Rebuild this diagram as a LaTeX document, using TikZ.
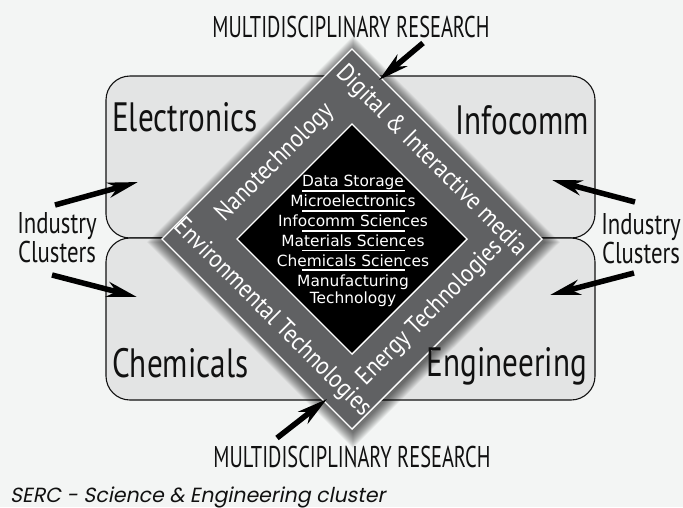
\documentclass[tikz,border=0pt]{standalone}
\usepackage{fontspec}
\setmainfont{PT Sans}
\newfontfamily\labfont[FakeStretch=0.76]{PT Sans}
\newfontfamily\capsfont[FakeStretch=0.68]{PT Sans}
\newfontfamily\bandfont[FakeStretch=0.87]{PT Sans}
\newfontfamily\sidefont[FakeStretch=0.76]{PT Sans}
\newfontfamily\notefont[FakeStretch=1.0, FakeSlant=0.2]{Poppins}
\newfontfamily\corefont{DejaVu Sans}
\usetikzlibrary{arrows.meta}

\definecolor{pagebg}{RGB}{243,245,244}
\definecolor{clusterfill}{RGB}{227,228,228}
\definecolor{bandgray}{RGB}{96,97,99}
\definecolor{inkblack}{RGB}{17,17,17}

\tikzset{
  clusterbox/.style={draw=inkblack, line width=1.1pt, fill=clusterfill, rounded corners=24pt},
  bandshape/.style={fill=bandgray, draw=white, line width=1.4pt},
  coreshape/.style={fill=black, draw=white, line width=1.4pt},
  shadowlayer/.style={fill=black, fill opacity=0.045},
  bandtext/.style={text=white, font=\bandfont\fontsize{25.5}{28}\selectfont, inner sep=0pt},
  bigtext/.style={text=inkblack, font=\labfont\fontsize{41}{44}\selectfont, inner sep=0pt},
  capstext/.style={text=inkblack, font=\capsfont\fontsize{30}{34}\selectfont, inner sep=0pt},
  sidetext/.style={text=inkblack, font=\sidefont\fontsize{30}{29}\selectfont, align=center, inner sep=0pt},
  coretext/.style={text=white, font=\corefont\fontsize{15.4}{18}\selectfont, inner sep=0pt, anchor=base},
  corerule/.style={draw=white, line width=1.3pt},
  bigarrow/.style={draw=black, line width=5.5pt, -{Stealth[length=30pt,width=15pt,inset=9pt]}},
}

\begin{document}
\begin{tikzpicture}[x=1pt,y=-1pt]
  % page
  \fill[pagebg] (0,0) rectangle (683,507);
  \useasboundingbox (0,0) rectangle (683,507);

  % the two industry cluster panels
  \draw[clusterbox] (106,76) rectangle (595,238);
  \draw[clusterbox] (106,238) rectangle (595,400);

  % soft shadow under the diamond, built from stacked translucent layers
  \foreach \r in {1,...,16} {
    \fill[shadowlayer] (353,52-\r) -- (544+\r,242) -- (353,432+\r) -- (163-\r,242) -- cycle;
  }

  % research diamond: grey band around the black core
  \filldraw[bandshape] (352,49) -- (542,239) -- (352,429) -- (162,239) -- cycle;
  \filldraw[coreshape] (352,124) -- (467,239) -- (352,354) -- (237,239) -- cycle;

  % band labels
  \node[bandtext, rotate=45]  (nano) at (275,163) {Nanotechnology};
  \node[bandtext, rotate=-45] (digi) at (431,161) {Digital \& Interactive media};
  \node[bandtext, rotate=-45] (envi) at (272,318) {Environmental Technologies};
  \node[bandtext, rotate=45]  (ener) at (430,313) {Energy Technologies};

  % core research areas
  \node[coretext] (c1) at (353,186) {Data Storage};
  \node[coretext] (c2) at (353,206) {Microelectronics};
  \node[coretext] (c3) at (353,226) {Infocomm Sciences};
  \node[coretext] (c4) at (353,246) {Materials Sciences};
  \node[coretext] (c5) at (353,266) {Chemicals Sciences};
  \node[coretext] (c6) at (353,286.5) {Manufacturing};
  \node[coretext] (c7) at (353,303) {Technology};
  \draw[corerule] (302,191) -- (405,191);
  \draw[corerule] (302,211) -- (405,211);
  \draw[corerule] (302,231) -- (405,231);
  \draw[corerule] (302,250.5) -- (405,250.5);
  \draw[corerule] (302,270) -- (405,270);

  % cluster names
  \node[bigtext, anchor=base west] (elec) at (112,131) {Electronics};
  \node[bigtext, anchor=base east] (info) at (589,134) {Infocomm};
  \node[bigtext, anchor=base west] (chem) at (112,377) {Chemicals};
  \node[bigtext, anchor=base east] (engi) at (587,376) {Engineering};

  % headings
  \node[capstext, anchor=base] (mrtop) at (351,37) {MULTIDISCIPLINARY RESEARCH};
  \node[capstext, anchor=base] (mrbot) at (352,467) {MULTIDISCIPLINARY RESEARCH};
  \node[sidetext, anchor=base] (icl) at (57,262) {Industry\\Clusters};
  \node[sidetext, anchor=base] (icr) at (641,263) {Industry\\Clusters};

  % caption
  \node[text=inkblack, font=\notefont\fontsize{20.5}{24}\selectfont, inner sep=0pt, anchor=base west]
    (note) at (10,502) {SERC - Science \& Engineering cluster};

  % arrow ends
  \coordinate (luS) at (55,205);  \coordinate (luE) at (138,182);
  \coordinate (llS) at (52,275);  \coordinate (llE) at (137,297);
  \coordinate (ruS) at (635,202); \coordinate (ruE) at (552,180);
  \coordinate (rlS) at (634,273); \coordinate (rlE) at (550,295);
  \coordinate (tS) at (423,43);   \coordinate (tE) at (379,80);
  \coordinate (bS) at (277,438);  \coordinate (bE) at (327,399);

  \draw[bigarrow] (luS) -- (luE);
  \draw[bigarrow] (llS) -- (llE);
  \draw[bigarrow] (ruS) -- (ruE);
  \draw[bigarrow] (rlS) -- (rlE);
  \draw[bigarrow] (tS) -- (tE);
  \draw[bigarrow] (bS) -- (bE);
\end{tikzpicture}
\end{document}
